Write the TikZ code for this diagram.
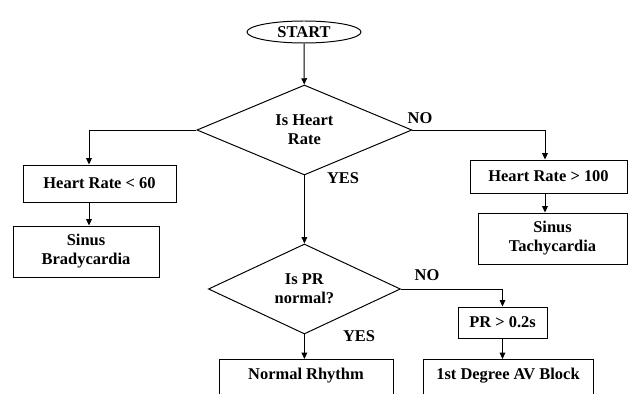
\documentclass[tikz,border=0pt]{standalone}
\usepackage{fontspec}
\setmainfont{Liberation Serif}
\usetikzlibrary{arrows.meta,shapes.geometric,positioning,calc}
\tikzset{every picture/.style={line width=0.7pt}}
\tikzset{
    flowfont/.style={font=\fontsize{11.7}{13.5}\selectfont\bfseries},
    flowbox/.style={draw, rectangle, inner sep=0pt, align=center, flowfont},
    decision/.style={draw, diamond, aspect=2.4, inner sep=0pt, align=center, flowfont},
    startend/.style={draw, ellipse, inner sep=0pt, flowfont},
    lbl/.style={inner sep=0pt, flowfont},
    arr/.style={-{Triangle[length=4.5pt,width=4pt]}}
}

\begin{document}
\begin{tikzpicture}[scale=1.0]
    \useasboundingbox (0,0) rectangle (15.7,-9.85);
    \clip (0,0) rectangle (15.7,-9.85);

    % 开始
    \node[startend, minimum width=2.85cm, minimum height=0.55cm] (start) at (7.6,-0.8) {START};

    % 第一个判断：心率
    \node[decision, minimum width=5.375cm, minimum height=2.25cm] (hr) at (7.61,-3.25) {Is Heart\\Rate};

    % 左侧：心动过缓
    \node[flowbox, minimum width=3.825cm, minimum height=0.925cm] (slow) at (2.4875,-4.5875) {Heart Rate < 60};
    \node[flowbox, minimum width=3.65cm, minimum height=1.275cm] (brady) at (2.15,-6.2875) {Sinus\\Bradycardia};

    % 右侧：心动过速
    \node[flowbox, minimum width=3.925cm, minimum height=0.825cm] (fast) at (13.7125,-4.4125) {Heart Rate > 100};
    \node[flowbox, minimum width=3.725cm, minimum height=1.275cm] (tachy) at (13.8125,-5.9625) {Sinus\\Tachycardia};

    % 第二个判断：PR 间期
    \node[decision, minimum width=4.8cm, minimum height=2.25cm] (pr) at (7.61,-7.225) {Is PR\\normal?};
    \node[flowbox, minimum width=2.225cm, minimum height=0.775cm] (prlong) at (12.5625,-8.0625) {PR > 0.2s};

    % 底部结果
    \node[flowbox, anchor=north, minimum width=4.35cm, inner ysep=6.1pt, text height=8pt, text depth=25pt] (normal) at (7.65,-8.975) {Normal Rhythm};
    \node[flowbox, anchor=north, minimum width=4.25cm, inner ysep=6.1pt, text height=8pt, text depth=25pt] (avb) at (12.7,-8.975) {1st Degree AV Block};

    % 分支竖线位置
    \coordinate (lcol) at (2.225,-3.225);
    \coordinate (rcol) at (13.625,-3.225);

    % 连线
    \draw[arr] (start) -- (hr);
    \draw[arr] (hr.west) -| (lcol |- slow.north);
    \draw[arr] (lcol |- slow.south) -- (lcol |- brady.north);
    \draw[arr] (hr.east) -| (rcol |- fast.north);
    \draw[arr] (rcol |- fast.south) -- (rcol |- tachy.north);
    \draw[arr] (hr.south) -- (pr.north);
    \draw[arr] (pr.south) -- (pr.south |- normal.north);
    \draw[arr] (pr.east) -| (prlong.north);
    \draw[arr] (prlong.south) -- (prlong.south |- avb.north);

    % 分支标注
    \node[lbl] (no1) at (10.5,-2.95) {NO};
    \node[lbl] (yes1) at (8.575,-4.45) {YES};
    \node[lbl] (no2) at (10.675,-6.875) {NO};
    \node[lbl] (yes2) at (8.975,-8.4) {YES};
\end{tikzpicture}
\end{document}
